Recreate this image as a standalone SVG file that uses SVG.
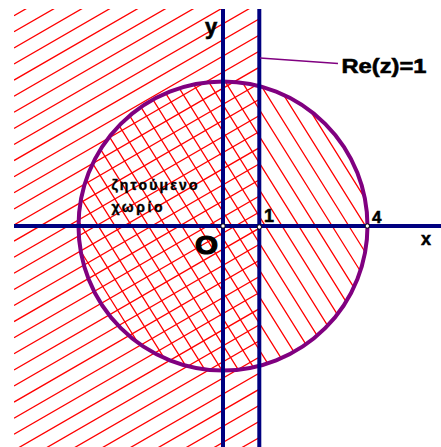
<svg xmlns="http://www.w3.org/2000/svg" width="441" height="447" viewBox="0 0 441 447">
<style>
.lbl{font-family:"Liberation Sans",Arial,sans-serif;font-weight:bold;fill:#000;stroke:#000}
.axis{stroke:#000080;stroke-width:4;fill:none}
.dot{fill:#fff;stroke:#000;stroke-width:1}
.hatch{fill:none;stroke:#ff0000;stroke-width:1.3}
</style>
<defs>
<clipPath id="clipHalf"><rect x="14" y="9" width="245" height="438"/></clipPath>
<clipPath id="clipDisk"><circle cx="223" cy="226" r="144.5"/></clipPath>
</defs>
<rect width="441" height="447" fill="#fff"/>
<g id="region-re-less-1" clip-path="url(#clipHalf)">
<path class="hatch" d="M14 15.7l245 -141.5M14 31.8l245 -141.5M14 47.9l245 -141.5M14 64l245 -141.5M14 80.1l245 -141.5M14 96.2l245 -141.5M14 112.3l245 -141.5M14 128.4l245 -141.5M14 144.5l245 -141.5M14 160.6l245 -141.5M14 176.7l245 -141.5M14 192.8l245 -141.5M14 208.9l245 -141.5M14 225l245 -141.5M14 241.1l245 -141.5M14 257.2l245 -141.5M14 273.3l245 -141.5M14 289.4l245 -141.5M14 305.5l245 -141.5M14 321.6l245 -141.5M14 337.7l245 -141.5M14 353.8l245 -141.5M14 369.9l245 -141.5M14 386l245 -141.5M14 402.1l245 -141.5M14 418.2l245 -141.5M14 434.3l245 -141.5M14 450.4l245 -141.5M14 466.5l245 -141.5M14 482.6l245 -141.5M14 498.7l245 -141.5M14 514.8l245 -141.5M14 530.9l245 -141.5M14 547l245 -141.5M14 563.1l245 -141.5M14 579.2l245 -141.5"/>
</g>
<g id="region-disk">
<g clip-path="url(#clipDisk)">
<path class="hatch" d="M-99.35 70l193.75 310M-82.65 70l193.75 310M-65.95 70l193.75 310M-49.25 70l193.75 310M-32.55 70l193.75 310M-15.85 70l193.75 310M0.85 70l193.75 310M17.55 70l193.75 310M34.25 70l193.75 310M50.95 70l193.75 310M67.65 70l193.75 310M84.35 70l193.75 310M101.05 70l193.75 310M117.75 70l193.75 310M134.45 70l193.75 310M151.15 70l193.75 310M167.85 70l193.75 310M184.55 70l193.75 310M201.25 70l193.75 310M217.95 70l193.75 310M234.65 70l193.75 310M251.35 70l193.75 310M268.05 70l193.75 310M284.75 70l193.75 310M301.45 70l193.75 310M318.15 70l193.75 310M334.85 70l193.75 310M351.55 70l193.75 310"/>
</g>
<circle cx="223" cy="226" r="144.5" fill="none" stroke="#800080" stroke-width="4"/>
</g>
<g id="connectors">
<line class="axis" x1="14" y1="226" x2="441" y2="226"/>
<line class="axis" x1="223" y1="9" x2="223" y2="447"/>
<line class="axis" x1="259.3" y1="9" x2="259.3" y2="447"/>
<line x1="260" y1="58" x2="338" y2="63.5" stroke="#800080" stroke-width="1.3"/>
</g>
<g id="points">
<circle class="dot" cx="223" cy="226" r="2.2"/>
<circle class="dot" cx="259.3" cy="227" r="2.2"/>
<circle class="dot" cx="367.3" cy="226" r="2.2"/>
</g>
<g id="labels">
<text class="lbl" x="205" y="34" font-size="22" stroke-width="0.6">y</text>
<text class="lbl" x="341.5" y="73" font-size="21" stroke-width="0.6" textLength="85" lengthAdjust="spacingAndGlyphs">Re(z)=1</text>
<text class="lbl" x="111.5" y="190" font-size="14" stroke-width="0.4" textLength="86">ζητούμενο</text>
<text class="lbl" x="111.5" y="211.5" font-size="14" stroke-width="0.4" textLength="51">χωρίο</text>
<text class="lbl" x="195" y="253.5" font-size="26" stroke-width="1.2" textLength="23" lengthAdjust="spacingAndGlyphs">O</text>
<text class="lbl" x="264" y="222" font-size="18" stroke-width="0.5">1</text>
<text class="lbl" x="372" y="222.5" font-size="17" stroke-width="0.5">4</text>
<text class="lbl" x="421" y="245" font-size="18" stroke-width="0.5">x</text>
</g>
</svg>
